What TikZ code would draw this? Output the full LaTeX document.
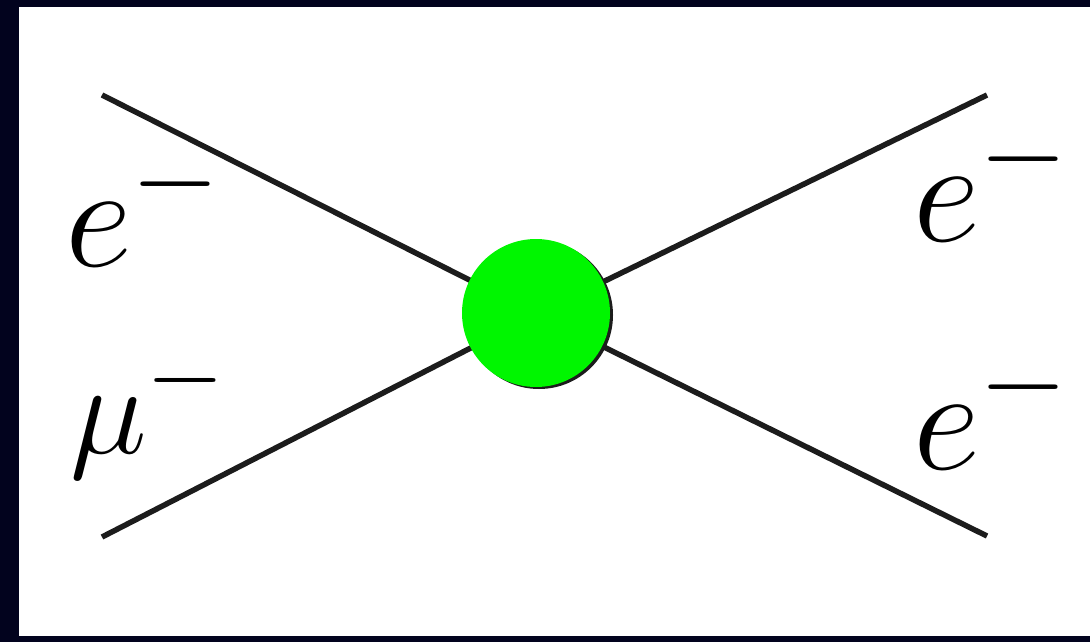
\documentclass[tikz,border=0pt]{standalone}
\usepackage{fix-cm}
\usepackage{graphicx}
\definecolor{frame}{RGB}{2,3,30}
\definecolor{linec}{RGB}{28,28,28}
\definecolor{blobg}{RGB}{0,246,0}
\newcommand{\bigminus}{\scalebox{1.1}{$\scriptstyle-$}}
\begin{document}
\begin{tikzpicture}[x=1pt,y=-1pt,
  leg/.style={draw=linec,line width=5.5pt},
  lbl/.style={inner sep=0pt,anchor=base west,font=\fontsize{147}{150}\selectfont},
  lblmu/.style={inner sep=0pt,anchor=base west,font=\fontsize{130}{132}\selectfont}]
\fill[frame] (0,0) rectangle (1090,642);
\fill[white] (19,7) rectangle (1090,636);
\useasboundingbox (0,0) rectangle (1090,642);
\coordinate (tl) at (102,95);
\coordinate (bl) at (102,537);
\coordinate (tr) at (987,95);
\coordinate (br) at (987,536);
\coordinate (v) at (537,314);
\draw[leg] (tl) -- (v) -- (tr);
\draw[leg] (bl) -- (v) -- (br);
\fill[linec] (539,315) circle (74);
\node[circle,fill=blobg,minimum size=148pt,inner sep=0pt] (blob) at (536,313) {};
\node[lbl] (e1) at (65,266) {$e^{\bigminus}$};
\node[lblmu] (mu) at (70,453) {$\mu^{\bigminus}$};
\node[lbl] (e2) at (913,241) {$e^{\bigminus}$};
\node[lbl] (e3) at (913,469) {$e^{\bigminus}$};
\end{tikzpicture}
\end{document}
